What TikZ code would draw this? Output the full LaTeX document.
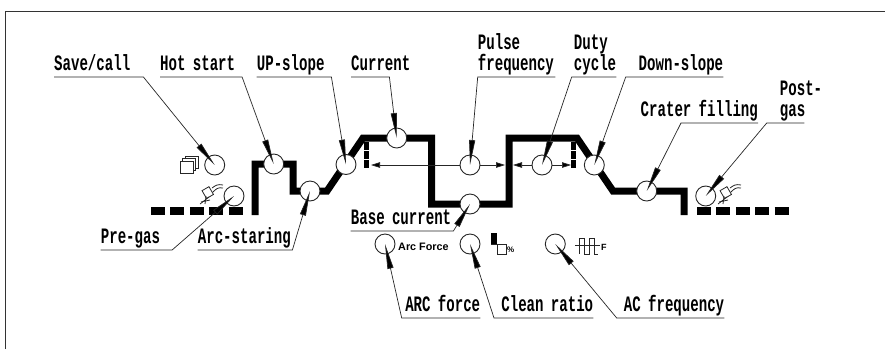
\documentclass[tikz,border=0pt]{standalone}
\usepackage{fontspec}
\usetikzlibrary{arrows.meta, shapes.geometric}
\newfontfamily\tagfont[FakeStretch=0.64]{Liberation Mono Bold}
\newfontfamily\iconfont{Liberation Sans Bold}

\begin{document}
\begin{tikzpicture}[
    x=1pt, y=-1pt,
    frame/.style={line width=1pt, draw=black!80},
    profile/.style={line width=7pt, miter limit=10},
    gasline/.style={line width=7.5pt, dash pattern=on 14pt off 5.4pt},
    pulseedge/.style={line width=5pt, dash pattern=on 7.5pt off 1.5pt},
    dial/.style={circle, draw=black!85, fill=white, minimum size=20pt, inner sep=0pt, line width=.9pt},
    tag/.style={inner sep=0pt, anchor=south west, font=\tagfont\fontsize{22}{21}\selectfont,
                execute at end node=\strut},
    leader/.style={line width=.7pt, draw=black!85, -{Triangle[length=25pt, width=6pt, fill=black]}},
    span/.style={line width=.7pt, draw=black!85, >={Triangle[length=9pt, width=5.5pt, fill=black]}},
    icon/.style={line width=.8pt, draw=black!85},
    iconlabel/.style={inner sep=0pt, font=\iconfont},
    torch/.pic={
        \draw[icon, fill=white, rotate around={30:(0,0)}] (-4,-5) rectangle (4,4);
        \draw[icon] (4,-5) .. controls (8,-8) and (10,-9) .. (15,-8);
        \draw[icon] (5,-1) .. controls (8,-4) and (10,-6) .. (15,-5);
        \draw[icon] (-2,3) -- (-3,11);
        \draw[icon] (-7,9) -- (2,7);
        \draw[icon] (-8,11) -- (1,4);
    }
]

\useasboundingbox (0,0) rectangle (885,349);
\draw[frame] (5,349) -- (5,11) -- (885,11);

% welding current profile
\draw[gasline] (151,211) -- (244,211);
\draw[gasline] (697,211) -- (790,211);
\draw[profile] (255,215) -- (255,164) -- (293,164) -- (293,191) -- (327,191) -- (363,138)
    -- (431.5,138) -- (431.5,204) -- (509,204) -- (509,138) -- (577,138) -- (613,191)
    -- (684,191) -- (684,215);
\draw[pulseedge] (366.7,142) -- (366.7,169);
\draw[pulseedge] (573,142) -- (573,169);

% dials
\node (savecall) [dial] at (214.7,165) {};
\node (pregas) [dial] at (234,196) {};
\node (hotstart) [dial] at (273.7,164) {};
\node (arcstart) [dial] at (310,191) {};
\node (upslope) [dial] at (346,164.5) {};
\node (current) [dial] at (396.7,138) {};
\node (pulsefreq) [dial] at (470,165) {};
\node (basecurrent) [dial] at (470,204) {};
\node (dutycycle) [dial] at (542,165) {};
\node (downslope) [dial] at (594.3,165) {};
\node (crater) [dial] at (646.7,191) {};
\node (postgas) [dial] at (705.7,196) {};
\node (arcforce) [dial] at (385,244) {};
\node (cleanratio) [dial] at (470,244) {};
\node (acfreq) [dial] at (555.3,244) {};

% pulse width span
\coordinate (spanleft) at (371,165);
\coordinate (spanmidl) at (505,165);
\coordinate (spanmidr) at (513,165);
\coordinate (spanright) at (571,165);
\draw[span, ->] (pulsefreq) -- (spanleft);
\draw[span, ->] (pulsefreq) -- (spanmidl);
\draw[span, ->] (dutycycle) -- (spanmidr);
\draw[span, ->] (dutycycle) -- (spanright);

% labels
\node (savecalltag) [tag, text width=89pt] at (54,77) {Save/call};
\node (hotstarttag) [tag, text width=81.7pt] at (160,77) {Hot start};
\node (upslopetag) [tag, text width=74.3pt] at (256.7,77) {UP-slope};
\node (currenttag) [tag, text width=38pt] at (351,77) {\makebox[0pt][l]{Current}};
\node (pulsefreqtag) [tag, text width=77.3pt, align=left] at (477.7,77) {Pulse\\frequency};
\node (dutycycletag) [tag, text width=44.3pt, align=left] at (571.7,77) {\hspace*{2pt}Duty\\\hspace*{2pt}cycle};
\node (downslopetag) [tag, text width=97.3pt, align=right] at (625.7,77) {Down-slope};
\node (cratertag) [tag, text width=76.7pt, align=right] at (681,123) {\makebox[0pt][r]{Crater filling}};
\node (postgastag) [tag, text width=37.3pt] at (766.7,123) {\hspace*{13pt}\makebox[0pt][l]{Post-}\\\hspace*{13pt}gas};
\node (pregastag) [tag, text width=71pt] at (100.7,250) {Pre-gas};
\node (arcstarttag) [tag, text width=94.3pt] at (197.7,250) {Arc-staring};
\node (basecurrenttag) [tag, text width=102.3pt] at (350.7,231) {Base current};
\node (arcforcetag) [tag, text width=78.3pt, align=right] at (401.7,318) {ARC force};
\node (cleanratiotag) [tag, text width=99pt, align=right] at (494,318) {Clean ratio};
\node (acfreqtag) [tag, text width=107.3pt, align=right] at (616.7,318) {AC frequency};

% leaders
\draw[leader] (savecalltag.south west) -- (savecalltag.south east) -- (savecall.center);
\draw[leader] (hotstarttag.south west) -- (hotstarttag.south east) -- (hotstart.center);
\draw[leader] (upslopetag.south west) -- (upslopetag.south east) -- (upslope.center);
\draw[leader] (currenttag.south west) -- (currenttag.south east) -- (current.center);
\draw[leader] (pulsefreqtag.south east) -- (pulsefreqtag.south west) -- (pulsefreq.center);
\draw[leader] (dutycycletag.south east) -- (dutycycletag.south west) -- (dutycycle.center);
\draw[leader] (downslopetag.south east) -- (downslopetag.south west) -- (downslope.center);
\draw[leader] (cratertag.south east) -- (cratertag.south west) -- (crater.center);
\draw[leader] (postgastag.south east) -- (postgastag.south west) -- (postgas.center);
\draw[leader] (pregastag.south west) -- (pregastag.south east) -- (pregas.center);
\draw[leader] (arcstarttag.south west) -- (arcstarttag.south east) -- (arcstart.center);
\draw[leader] (basecurrenttag.south west) -- (basecurrenttag.south east) -- (basecurrent.center);
\draw[leader] (arcforcetag.south east) -- (arcforcetag.south west) -- (arcforce.center);
\draw[leader] (cleanratiotag.south east) -- (cleanratiotag.south west) -- (cleanratio.center);
\draw[leader] (acfreqtag.south east) -- (acfreqtag.south west) -- (acfreq.center);

% panel icons
\foreach \s in {5,2.5,0}
    \draw[icon, fill=white] (180+\s,161-\s) rectangle (193+\s,173-\s);
\pic at (208,193) {torch};
\pic at (726,193) {torch};
\node (arcforcename) [iconlabel, anchor=west] at (398,247) {\fontsize{10.8}{11}\selectfont Arc Force};
\fill[black] (491,233) rectangle (497,244);
\draw[icon] (491,244) -- (506,244) -- (506,254) -- (497,254) -- (497,244);
\node (percent) [iconlabel, anchor=west] at (507,250) {\fontsize{8}{8}\selectfont\%};
\draw[icon] (575,245) -- (600,245);
\draw[icon] (579,254) -- (579,238) -- (584,238) -- (584,254) -- (589,254) -- (589,238) -- (594,238) -- (594,254) -- (598,254);
\node (acfreqname) [iconlabel, anchor=west] at (601,247) {\fontsize{9}{9}\selectfont F};

\end{tikzpicture}
\end{document}
